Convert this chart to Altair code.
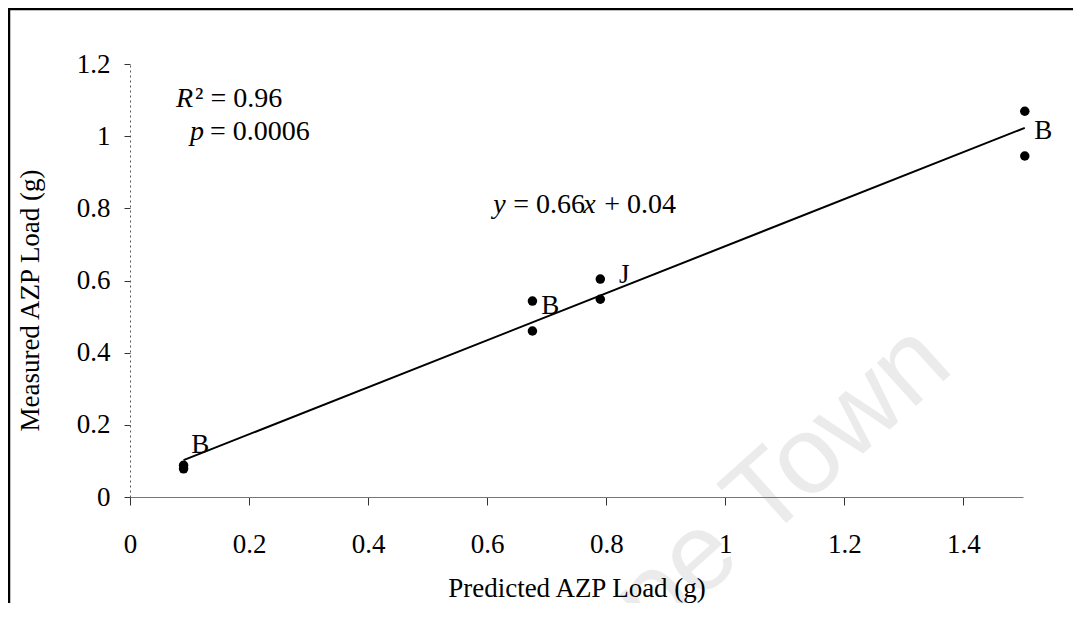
import altair as alt
import pandas as pd

# ---- data ----
pred = [0.09, 0.09, 0.676, 0.676, 0.79, 0.79, 1.503, 1.503]
meas = [0.078, 0.088, 0.543, 0.46, 0.604, 0.548, 1.069, 0.945]

lab_text = ["B", "B", "J", "B"]
lab_x = [0.118, 0.706, 0.830, 1.534]
lab_y = [0.122, 0.507, 0.593, 0.992]

x_ticks = [0, 0.2, 0.4, 0.6, 0.8, 1, 1.2, 1.4]
y_ticks = [0, 0.2, 0.4, 0.6, 0.8, 1, 1.2]

W, H = 893, 433
SERIF = "Liberation Serif"

pts = pd.DataFrame({"pred": pred, "meas": meas})
labs = pd.DataFrame({"pred": lab_x, "meas": lab_y, "t": lab_text})

xs = alt.Scale(domain=[0, 1.5], nice=False, zero=False)
ys = alt.Scale(domain=[0, 1.2], nice=False)

xaxis = alt.Axis(values=x_ticks, title="Predicted AZP Load (g)", format="~g",
                 labelFont=SERIF, labelFontSize=27, labelColor="black",
                 labelPadding=26, tickSize=8, tickColor="#333",
                 domainColor="#777", domainWidth=1.2, grid=False,
                 titleFont=SERIF, titleFontSize=27, titleFontWeight="normal",
                 titleColor="black", titleY=99, titleBaseline="alphabetic",
                 labelFlush=False, labelOverlap=False, zindex=1)
yaxis = alt.Axis(values=y_ticks, title="Measured AZP Load (g)", format="~g",
                 labelFont=SERIF, labelFontSize=27, labelColor="black",
                 labelPadding=14, tickSize=6, tickColor="#333",
                 domainColor="#555", domainDash=[2, 3], grid=False,
                 titleFont=SERIF, titleFontSize=27, titleFontWeight="normal",
                 titleColor="black", titleX=-92, titleY=236, titleAngle=270,
                 titleAlign="center", titleBaseline="alphabetic",
                 labelFlush=False, labelOverlap=False, zindex=1)


def X():
    return alt.X("pred:Q", scale=xs, axis=xaxis)


def Y():
    return alt.Y("meas:Q", scale=ys, axis=yaxis)


one = pd.DataFrame({"a": [0]})

watermark = alt.Chart(one).mark_text(
    text="Cape Town", font="Liberation Sans", fontSize=110, color="#ebebeb",
    angle=318, align="center", baseline="middle"
).encode(x=alt.value(600), y=alt.value(465))

frame_top = alt.Chart(one).mark_rule(color="black", strokeWidth=2.5).encode(
    x=alt.value(-122), x2=alt.value(960), y=alt.value(-55))
frame_left = alt.Chart(one).mark_rule(color="black", strokeWidth=2.5).encode(
    x=alt.value(-121), y=alt.value(-56), y2=alt.value(560))

line = alt.Chart(pts).transform_regression("pred", "meas").mark_line(
    color="black", strokeWidth=2
).encode(x=X(), y=Y())

points = alt.Chart(pts).mark_point(filled=True, color="black", size=90, opacity=1).encode(
    x=X(), y=Y())

labels = alt.Chart(labs).mark_text(
    font=SERIF, fontSize=27, color="black", align="center", baseline="alphabetic"
).encode(x=X(), y=Y(), text="t:N")


def txt(s, x, y, dx=0, italic=False):
    return alt.Chart(pd.DataFrame({"pred": [x], "meas": [y], "t": [s]})).mark_text(
        align="left", baseline="alphabetic", dx=dx, font=SERIF, fontSize=28,
        fontStyle="italic" if italic else "normal", color="black"
    ).encode(x=X(), y=Y(), text="t:N")


ann = [
    txt("R", 0.0773, 1.080, 0, True),
    txt("\u00b2 = 0.96", 0.0773, 1.080, 19),
    txt("p", 0.1008, 0.989, 0, True),
    txt("= 0.0006", 0.1008, 0.989, 20),
    txt("y", 0.610, 0.787, 0, True),
    txt("= 0.66", 0.610, 0.787, 20),
    txt("x", 0.610, 0.787, 90, True),
    txt("+ 0.04", 0.610, 0.787, 111),
]

chart = alt.layer(watermark, frame_top, frame_left, line, points, labels, *ann).properties(
    width=W, height=H,
    padding={"left": 122, "top": 56, "right": 50, "bottom": 106},
    autosize=alt.AutoSizeParams(type="none"),
).configure(font=SERIF, background="white").configure_view(
    stroke=None
).configure_axis(labelFont=SERIF, titleFont=SERIF)

chart.save("out.html", embed_options={"renderer": "svg", "actions": False})
